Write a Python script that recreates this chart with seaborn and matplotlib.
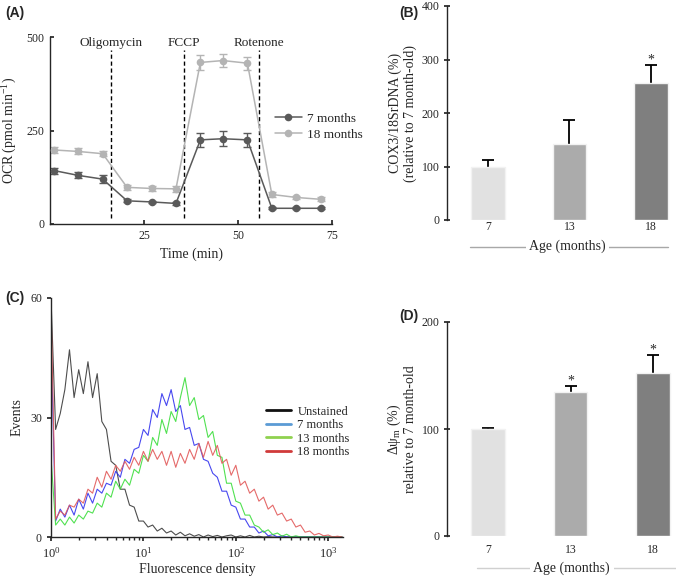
import numpy as np
import pandas as pd
import matplotlib
matplotlib.use('Agg')
import matplotlib.pyplot as plt
import seaborn as sns
from matplotlib.lines import Line2D

sns.set_theme(style='ticks')
plt.rcParams['font.family'] = ['Liberation Serif', 'DejaVu Serif']
plt.rcParams['mathtext.fontset'] = 'custom'
plt.rcParams['mathtext.rm'] = 'Liberation Serif'
plt.rcParams['mathtext.it'] = 'Liberation Serif:italic'
plt.rcParams['mathtext.bf'] = 'Liberation Serif:bold'
plt.rcParams['axes.linewidth'] = 1.0

# ---------------- Panel A data ----------------
time_min = [1, 7.5, 14, 20.5, 27, 33.5, 40, 46, 52.5, 59, 65.5, 72]
ocr_7m = [143, 130, 120, 62, 59, 55, 225, 228, 225, 42, 42, 42]
ocr_7m_err = [8, 8, 10, 4, 3, 4, 18, 20, 18, 3, 3, 3]
ocr_18m = [198, 194, 188, 98, 95, 94, 432, 437, 430, 79, 71, 66]
ocr_18m_err = [9, 8, 6, 7, 7, 8, 20, 18, 17, 6, 5, 5]
injection_names = ['Oligomycin', 'FCCP', 'Rotenone']
injection_times = [16.3, 35.6, 55.5]

# ---------------- Panel B data ----------------
ages = ['7', '13', '18']
cox3 = [100, 142, 257]
cox3_err = [13, 45, 33]
cox3_sig = ['', '', '*']

# ---------------- Panel D data ----------------
dpsi = [100, 135, 152]
dpsi_err = [1, 5, 17]
dpsi_sig = ['', '*', '*']
bar_colors = ['#e1e1e1', '#ababab', '#7f7f7f']

# ---------------- Panel C data ----------------
channel_log10 = [0.00, 0.05, 0.10, 0.15, 0.20, 0.25, 0.30, 0.35, 0.40, 0.45,
                 0.50, 0.55, 0.60, 0.65, 0.70, 0.75, 0.80, 0.85, 0.90, 0.95,
                 1.00, 1.05, 1.10, 1.15, 1.20, 1.25, 1.30, 1.35, 1.40, 1.45,
                 1.50, 1.55, 1.60, 1.65, 1.70, 1.75, 1.80, 1.85, 1.90, 1.95,
                 2.00, 2.05, 2.10, 2.15, 2.20, 2.25, 2.30, 2.35, 2.40, 2.45,
                 2.50, 2.55, 2.60, 2.65, 2.70, 2.75, 2.80, 2.85, 2.90, 2.95,
                 3.00, 3.05, 3.10, 3.15]
ev_unstained = [60, 27, 31, 37, 47, 35, 42, 36, 44, 35,
                41, 29, 27, 19, 18, 12, 12, 8, 7.5, 4,
                4, 2.5, 3, 1.5, 2.2, 1, 1.5, 0.5, 1.2, 0.3,
                0.8, 0.2, 0.6, 0, 0.5, 0.1, 0.4, 0, 0.3, 0.5,
                0, 0.3, 0, 0.4, 0, 0.2, 0, 0.1, 0, 0,
                0, 0, 0, 0, 0, 0, 0, 0, 0, 0,
                0, 0, 0, 0]
ev_7m = [50, 4, 7, 5, 8, 5.5, 9.5, 7, 11, 8.5,
         12, 11, 13.5, 13, 16.5, 15, 19.5, 18.5, 22, 22.5,
         27, 25.5, 32, 30, 36, 33, 37, 31.5, 33, 27,
         27.5, 23, 23.5, 19.5, 19, 16, 15, 11.5, 11.5, 8,
         7.5, 4.5, 4.5, 2.5, 2.5, 1, 1.5, 0.3, 0.6, 0,
         0.3, 0, 0, 0, 0, 0, 0, 0, 0, 0,
         0, 0, 0, 0]
ev_13m = [20, 3, 4.5, 3, 5, 3.5, 5.5, 4.5, 6.5, 6,
          8.5, 7.5, 11, 10, 14, 12, 14.5, 13, 17, 16,
          20.5, 19, 25, 23, 29.5, 26, 31.5, 29, 35, 40,
          33, 35, 29.5, 30.5, 25, 26.5, 20.5, 20, 13.5, 13.5,
          9, 8.5, 5.5, 5.5, 3, 2.5, 1.2, 1.8, 0.6, 1.0,
          0.2, 0.7, 0, 0.3, 0, 0, 0, 0, 0, 0,
          0, 0, 0, 0]
ev_18m = [58, 4.5, 6.5, 5.5, 8, 7.5, 9.5, 8.5, 12, 11,
          15, 12.5, 16.5, 14.5, 18, 16.5, 19, 17, 20, 18,
          21.5, 19, 22, 19.5, 21.5, 18, 21.5, 17.5, 21, 18.5,
          22, 19.5, 23.5, 20, 24, 20.5, 23, 18.5, 19.5, 15.5,
          18, 13, 14, 11, 12, 9, 10, 7, 8, 5.5,
          6, 4, 4.5, 2.5, 3, 1.2, 1.5, 0.5, 0.9, 0.3,
          0.5, 0, 0.2, 0]
hist_labels = ['Unstained', '7 months', '13 months', '18 months']
hist_line_colors = ['#3a3a3a', '#3434ee', '#3ede3e', '#e25a5a']
hist_legend_colors = ['#111111', '#5b9bd5', '#8fd14f', '#d03a3a']

W, H = 676, 579
fig = plt.figure(figsize=(W / 100, H / 100), dpi=100)


def px_axes(left, top, right, bottom):
    return fig.add_axes([left / W, 1 - bottom / H, (right - left) / W, (bottom - top) / H])


TICK_FS = 8.5
LAB_FS = 10

# ================= Panel A =================
axA = px_axes(50, 37, 332, 224)
dfA = pd.DataFrame({
    'time': time_min * 2,
    'ocr': ocr_7m + ocr_18m,
    'group': ['7 months'] * len(time_min) + ['18 months'] * len(time_min),
})
colA = {'7 months': '#5a5a5a', '18 months': '#b4b4b4'}
sns.lineplot(data=dfA, x='time', y='ocr', hue='group', palette=colA, marker='o',
             markersize=5.5, markeredgewidth=0, linewidth=1.1, ax=axA, legend=False, zorder=3)
axA.errorbar(time_min, ocr_7m, yerr=ocr_7m_err, fmt='none', ecolor=colA['7 months'],
             elinewidth=1, capsize=3, capthick=1, zorder=2)
axA.errorbar(time_min, ocr_18m, yerr=ocr_18m_err, fmt='none', ecolor=colA['18 months'],
             elinewidth=1, capsize=3, capthick=1, zorder=2)
axA.vlines(injection_times, 15, 465, colors='black', linestyles=(0, (3, 2)), linewidth=1)
for name, t in zip(injection_names, injection_times):
    axA.text(t, 484, name, ha='center', va='center', fontsize=9.5)
axA.set_xlim(0, 75)
axA.set_ylim(0, 500)
axA.set_xticks([25, 50, 75])
axA.set_yticks([0, 250, 500])
axA.tick_params(direction='in', length=3, labelsize=TICK_FS, pad=4)
axA.spines[['top', 'right']].set_visible(False)
axA.set_xlabel('Time (min)', fontsize=LAB_FS, labelpad=4)
axA.set_ylabel('OCR (pmol min$^{-1}$)', fontsize=LAB_FS, labelpad=5)
handlesA = [Line2D([], [], color=colA[g], marker='o', markersize=5.5, markeredgewidth=0, lw=1.1)
            for g in ['7 months', '18 months']]
axA.legend(handles=handlesA, labels=['7 months', '18 months'], frameon=False,
           loc='center left', bbox_to_anchor=(0.78, 0.52), fontsize=9.5,
           handlelength=2.0, handletextpad=0.4, labelspacing=0.3, borderaxespad=0)


def bar_panel(ax, vals, errs, sigs, ylim, yticks, ylabel, tick_pad, age_y, line_x, text_x, line_color):
    sns.barplot(x=ages, y=vals, hue=ages, palette=bar_colors, legend=False, ax=ax,
                width=0.41, edgecolor='#f2f2f2', linewidth=1.0, saturation=1)
    for p in ax.patches:
        p.set_zorder(2)
    ax.errorbar(range(len(ages)), vals, yerr=errs, fmt='none', ecolor='black',
                elinewidth=1.3, capsize=4.5, capthick=1.3, zorder=1)
    for i, (v, e, s) in enumerate(zip(vals, errs, sigs)):
        if s:
            ax.annotate(s, (i, v + e), xytext=(0, -1), textcoords='offset points',
                        ha='center', va='bottom', fontsize=10)
    ax.set_ylim(*ylim)
    ax.set_yticks(yticks)
    ax.set_xlim(-0.5, 2.28)
    ax.spines[['top', 'right', 'bottom']].set_visible(False)
    ax.tick_params(axis='y', direction='inout', length=5, labelsize=TICK_FS, pad=3)
    ax.tick_params(axis='x', length=0, labelsize=TICK_FS, pad=tick_pad)
    ax.set_xlabel('')
    ax.set_ylabel(ylabel, fontsize=LAB_FS, labelpad=3, linespacing=1.15)
    ax.plot(line_x, [age_y, age_y], color=line_color, lw=1.0, transform=ax.transAxes, clip_on=False)
    ax.text(text_x, age_y, 'Age (months)', transform=ax.transAxes, ha='center', va='center',
            fontsize=LAB_FS, bbox=dict(facecolor='white', edgecolor='none', pad=2.5))


# ================= Panel B =================
axB = px_axes(447, 6, 674, 220)
bar_panel(axB, cox3, cox3_err, cox3_sig, (0, 400), [0, 100, 200, 300, 400],
          'COX3/18SrDNA (%)\n(relative to 7 month-old)', 0.5, -0.125, [0.10, 0.975], 0.53, '#a8a8a8')

# ================= Panel D =================
axD = px_axes(447, 322, 676, 536)
bar_panel(axD, dpsi, dpsi_err, dpsi_sig, (0, 200), [0, 100, 200],
          'Δψ$_{\\rm m}$ (%)\nrelative to 7 month-old', 6, -0.149, [0.13, 1.0], 0.545, '#d0d0d0')

# ================= Panel C =================
axC = px_axes(51, 298, 343, 537)
xs = [10 ** v for v in channel_log10]
for lab, ys, col in zip(hist_labels, [ev_unstained, ev_7m, ev_13m, ev_18m], hist_line_colors):
    sns.lineplot(x=xs, y=ys, color=col, linewidth=0.8, ax=axC, alpha=0.9)
axC.set_xscale('log')
axC.set_xlim(1, 10 ** 3.16)
axC.set_ylim(0, 60)
axC.set_yticks([0, 30, 60])
axC.spines[['top', 'right']].set_visible(False)
axC.tick_params(axis='y', which='major', direction='out', length=3, labelsize=TICK_FS)
axC.tick_params(axis='x', which='major', direction='out', length=3, labelsize=9)
axC.tick_params(axis='x', which='minor', direction='out', length=2)
axC.set_xlabel('Fluorescence density', fontsize=LAB_FS, labelpad=2)
axC.set_ylabel('Events', fontsize=LAB_FS, labelpad=5)
handlesC = [Line2D([], [], color=c, lw=2) for c in hist_legend_colors]
axC.legend(handles=handlesC, labels=hist_labels, frameon=False, loc='upper left',
           bbox_to_anchor=(0.72, 0.57), fontsize=9, handlelength=2.0, handletextpad=0.5,
           labelspacing=0.12, borderaxespad=0)

# ---------------- Panel labels ----------------
for lab, x, y in [('(A)', 5, 13), ('(B)', 399, 13), ('(C)', 5, 298), ('(D)', 399, 316)]:
    fig.text(x / W, 1 - y / H, lab, fontfamily=['Liberation Sans', 'DejaVu Sans'],
             fontweight='bold', fontsize=10, ha='left', va='center')

fig.savefig('out.png', dpi=100)
